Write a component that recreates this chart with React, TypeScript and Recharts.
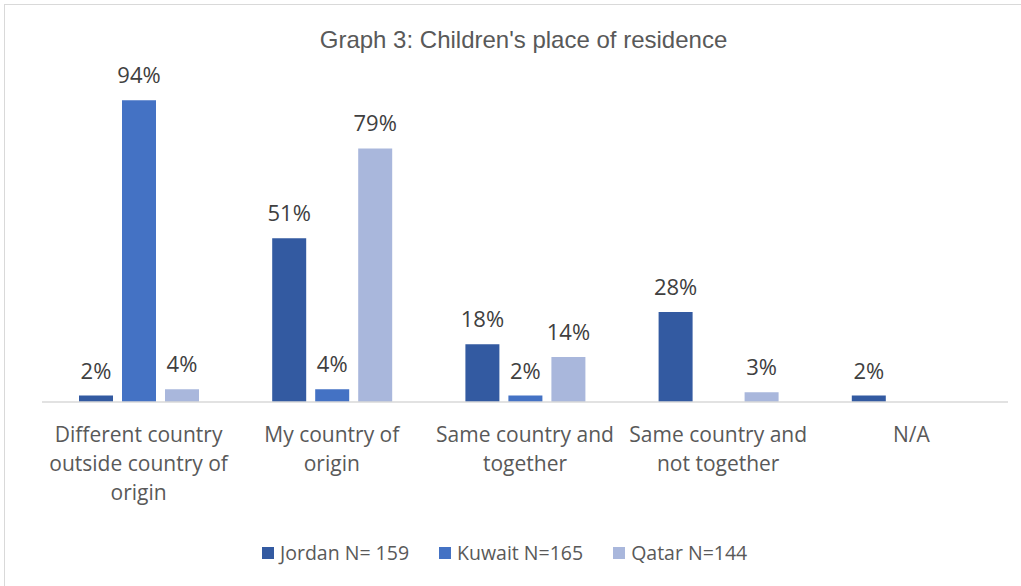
import { Bar, BarChart, LabelList, XAxis, YAxis } from "recharts";

const categories = [
  "Different country\noutside country of\norigin",
  "My country of\norigin",
  "Same country and\ntogether",
  "Same country and\nnot together",
  "N/A",
];
const jordan = [2, 51, 18, 28, 2];
const kuwait = [94, 4, 2, null, null];
const qatar = [4, 79, 14, 3, null];

const seriesNames = ["Jordan N= 159", "Kuwait N=165", "Qatar N=144"];
const seriesColors = ["#335AA1", "#4472C4", "#A9B7DC"];

const data = categories.map((c, i) => ({
  name: c,
  jordan: jordan[i],
  kuwait: kuwait[i],
  qatar: qatar[i],
}));

const FONT = "'Open Sans', sans-serif";

function CategoryTick(props: any) {
  const { x, y, payload } = props;
  const lines = String(payload.value).split("\n");
  return (
    <text
      x={x}
      y={y + 40}
      textAnchor="middle"
      fontFamily={FONT}
      fontSize={21}
      fill="#595959"
    >
      {lines.map((l, i) => (
        <tspan key={i} x={x} dy={i === 0 ? 0 : 29}>
          {l}
        </tspan>
      ))}
    </text>
  );
}

function LegendBox() {
  return (
    <div
      style={{
        display: "flex",
        justifyContent: "flex-start",
        gap: 30,
        fontFamily: FONT,
        fontSize: 19.5,
        color: "#595959",
        paddingLeft: 262,
      }}
    >
      {seriesNames.map((n, i) => (
        <div key={n} style={{ display: "flex", alignItems: "center" }}>
          <span
            style={{
              display: "inline-block",
              width: 12,
              height: 12,
              background: seriesColors[i],
              marginRight: 6,
            }}
          />
          <span>{n}</span>
        </div>
      ))}
    </div>
  );
}

const fmt = (v: any) => (v == null ? "" : `${v}%`);
const labelStyle = { fontFamily: FONT, fontSize: 22, fill: "#404040" };

export default function App() {
  const keys = ["jordan", "kuwait", "qatar"];
  return (
    <div
      style={{
        position: "absolute",
        left: 0,
        top: 0,
        width: 1021,
        height: 586,
        overflow: "hidden",
        background: "#fff",
      }}
    >
      <div
        style={{
          position: "absolute",
          left: 4,
          top: 4,
          width: 1060,
          height: 620,
          border: "1px solid #D9D9D9",
        }}
      />
      <div
        style={{
          position: "absolute",
          left: 0,
          top: 28,
          width: 1047,
          textAlign: "center",
          fontFamily: "'Liberation Sans', Arial, sans-serif",
          fontSize: 24,
          lineHeight: "24px",
          color: "#595959",
        }}
      >
        Graph 3: Children's place of residence
      </div>
      <div style={{ position: "absolute", left: 0, top: 0 }}>
        <BarChart
          width={1021}
          height={586}
          data={data}
          margin={{ top: 81, right: 13, left: 42, bottom: 84 }}
          barSize={34}
          barGap={9}
        >
          <XAxis
            dataKey="name"
            interval={0}
            tickLine={false}
            tickSize={0}
            tickMargin={0}
            height={100}
            axisLine={{ stroke: "#D9D9D9", strokeWidth: 1.5 }}
            tick={<CategoryTick />}
          />
          <YAxis hide domain={[0, 100]} />
          {keys.map((k, i) => (
            <Bar
              key={k}
              dataKey={k}
              name={seriesNames[i]}
              fill={seriesColors[i]}
              isAnimationActive={false}
            >
              <LabelList
                dataKey={k}
                position="top"
                offset={17}
                formatter={fmt}
                style={labelStyle}
              />
            </Bar>
          ))}
        </BarChart>
      </div>
      <div style={{ position: "absolute", left: 0, top: 539, width: 1021 }}>
        <LegendBox />
      </div>
    </div>
  );
}
